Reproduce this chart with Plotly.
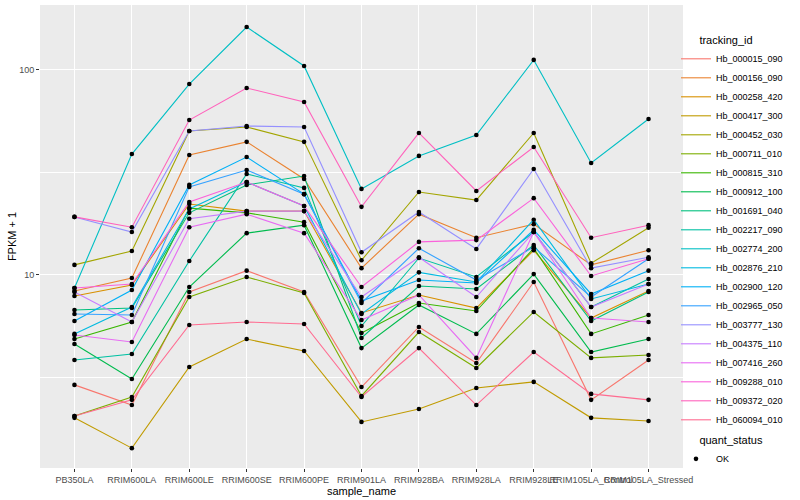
import plotly.graph_objects as go

samples = ["PB350LA", "RRIM600LA", "RRIM600LE", "RRIM600SE", "RRIM600PE", "RRIM901LA",
           "RRIM928BA", "RRIM928LA", "RRIM928LE", "RRIM105LA_Control", "RRIM105LA_Stressed"]

tracking_ids = ["Hb_000015_090", "Hb_000156_090", "Hb_000258_420", "Hb_000417_300", "Hb_000452_030",
                "Hb_000711_010", "Hb_000815_310", "Hb_000912_100", "Hb_001691_040", "Hb_002217_090",
                "Hb_002774_200", "Hb_002876_210", "Hb_002900_120", "Hb_002965_050", "Hb_003777_130",
                "Hb_004375_110", "Hb_007416_260", "Hb_009288_010", "Hb_009372_020", "Hb_060094_010"]

# FPKM + 1 values (one list per tracking_id)
hb_000015_090 = [2.91, 2.32, 8.26, 10.5, 8.26, 2.84, 5.58, 3.72, 9.24, 2.46, 3.85]
hb_000156_090 = [8.36, 9.67, 38.5, 44.6, 29.4, 10.8, 19.8, 15.2, 17.7, 11.2, 13.2]
hb_000258_420 = [7.90, 8.94, 22.2, 20.5, 20.5, 6.53, 7.99, 6.90, 13.2, 6.17, 8.36]
hb_000417_300 = [2.01, 1.43, 3.56, 4.87, 4.26, 1.92, 2.22, 2.81, 3.01, 2.01, 1.94]
hb_000452_030 = [11.2, 13.1, 50.4, 52.7, 44.6, 11.8, 25.4, 23.2, 49.3, 11.4, 17.0]
hb_000711_010 = [2.05, 2.54, 7.81, 9.78, 8.17, 2.57, 5.27, 3.52, 6.60, 3.94, 4.07]
hb_000815_310 = [4.87, 5.90, 21.2, 20.1, 18.1, 5.21, 7.30, 6.67, 13.5, 5.16, 6.38]
hb_000912_100 = [4.61, 3.11, 8.74, 16.0, 17.5, 4.40, 7.14, 5.16, 10.1, 4.21, 4.87]
hb_001691_040 = [6.75, 6.90, 20.1, 27.5, 30.4, 4.93, 8.84, 8.55, 14.0, 5.96, 8.26]
hb_002217_090 = [3.85, 4.12, 11.7, 31.1, 26.6, 5.64, 12.1, 9.78, 16.2, 6.98, 9.56]
hb_002774_200 = [8.64, 38.9, 85.4, 162.0, 104.6, 26.3, 38.1, 48.2, 112.0, 35.2, 57.7]
hb_002876_210 = [5.16, 6.98, 21.0, 28.4, 21.7, 6.45, 10.3, 9.24, 18.6, 7.64, 9.04]
hb_002900_120 = [5.96, 8.45, 27.5, 37.6, 24.8, 7.47, 9.45, 9.14, 16.6, 8.08, 10.5]
hb_002965_050 = [6.45, 6.38, 26.9, 32.5, 24.8, 7.30, 13.5, 9.45, 13.7, 7.81, 12.0]
hb_003777_130 = [19.2, 16.2, 50.4, 53.3, 52.7, 12.9, 20.3, 13.4, 32.9, 10.8, 12.2]
hb_004375_110 = [8.26, 5.90, 18.8, 20.5, 20.5, 7.81, 12.2, 7.81, 16.2, 6.98, 9.04]
hb_007416_260 = [5.10, 4.71, 17.1, 19.8, 16.0, 6.03, 7.99, 3.94, 16.2, 6.17, 5.90]
hb_009288_010 = [8.64, 9.04, 22.7, 28.4, 21.7, 8.74, 14.5, 14.8, 23.7, 9.89, 12.0]
hb_009372_020 = [19.2, 17.1, 57.0, 81.7, 69.8, 21.5, 49.3, 25.7, 42.1, 15.2, 17.5]
hb_060094_010 = [2.05, 2.46, 5.70, 5.90, 5.77, 2.54, 4.40, 2.32, 4.21, 2.63, 2.46]

series = [hb_000015_090, hb_000156_090, hb_000258_420, hb_000417_300, hb_000452_030,
          hb_000711_010, hb_000815_310, hb_000912_100, hb_001691_040, hb_002217_090,
          hb_002774_200, hb_002876_210, hb_002900_120, hb_002965_050, hb_003777_130,
          hb_004375_110, hb_007416_260, hb_009288_010, hb_009372_020, hb_060094_010]

quant_status = "OK"

colors = ["#F8766D", "#EA8331", "#D89000", "#C09B00", "#A3A500", "#7CAE00", "#39B600",
          "#00BB4E", "#00BF7D", "#00C1A3", "#00BFC4", "#00BAE0", "#00B0F6", "#35A2FF",
          "#9590FF", "#C77CFF", "#E76BF3", "#FA62DB", "#FF62BC", "#FF6C91"]

FONT = "Liberation Sans, Arial, sans-serif"
NB = "\u00a0"

fig = go.Figure()
for tid, vals, col in zip(tracking_ids, series, colors):
    fig.add_trace(go.Scatter(x=samples, y=vals, mode="lines", name=tid,
                             line=dict(color=col, width=1.1), legend="legend"))

all_x = [s for vals in series for s in samples]
all_y = [v for vals in series for v in vals]
fig.add_trace(go.Scatter(x=all_x, y=all_y, mode="markers", name=quant_status,
                         marker=dict(color="black", size=4.6, symbol="circle"),
                         legend="legend2"))

fig.update_layout(
    width=800, height=500,
    margin=dict(l=40, r=117, t=5, b=32),
    paper_bgcolor="white", plot_bgcolor="#EBEBEB",
    font=dict(family=FONT, size=9, color="black"),
    xaxis=dict(type="category", range=[-0.6, 10.6], showgrid=True, gridcolor="white",
               gridwidth=1.1, zeroline=False, showline=False, ticks="outside", ticklen=3,
               tickcolor="#333333", tickwidth=1, tickangle=0,
               tickfont=dict(size=9, color="#4D4D4D", family=FONT),
               title=dict(text="sample_name", font=dict(size=11, color="black"), standoff=3),
               automargin=False),
    yaxis=dict(type="log", range=[0.0585, 2.317], tickvals=[10, 100], ticktext=["10", "100"],
               showgrid=True, gridcolor="white", gridwidth=1.1, zeroline=False, showline=False,
               ticks="outside", ticklen=3, tickcolor="#333333", tickwidth=1,
               tickfont=dict(size=9, color="#4D4D4D", family=FONT),
               minor=dict(tickvals=[10 ** 0.5, 10 ** 1.5], showgrid=True, gridcolor="white",
                          gridwidth=0.55, ticks=""),
               title=dict(text="FPKM + 1", font=dict(size=11, color="black"), standoff=0),
               automargin=False),
    legend=dict(title=dict(text=NB * 7 + "tracking_id", font=dict(size=11)), x=0.9891,
                xanchor="left", y=0.946, yanchor="top", font=dict(size=9),
                bgcolor="rgba(0,0,0,0)", tracegroupgap=0),
    legend2=dict(title=dict(text=NB * 7 + "quant_status", font=dict(size=11)), x=0.9891,
                 xanchor="left", y=0.082, yanchor="top", font=dict(size=9),
                 bgcolor="rgba(0,0,0,0)"),
    showlegend=True,
)

fig.write_html("out.html", config={"displayModeBar": False},
               post_script="document.body.style.margin='0';document.body.style.padding='0';")
